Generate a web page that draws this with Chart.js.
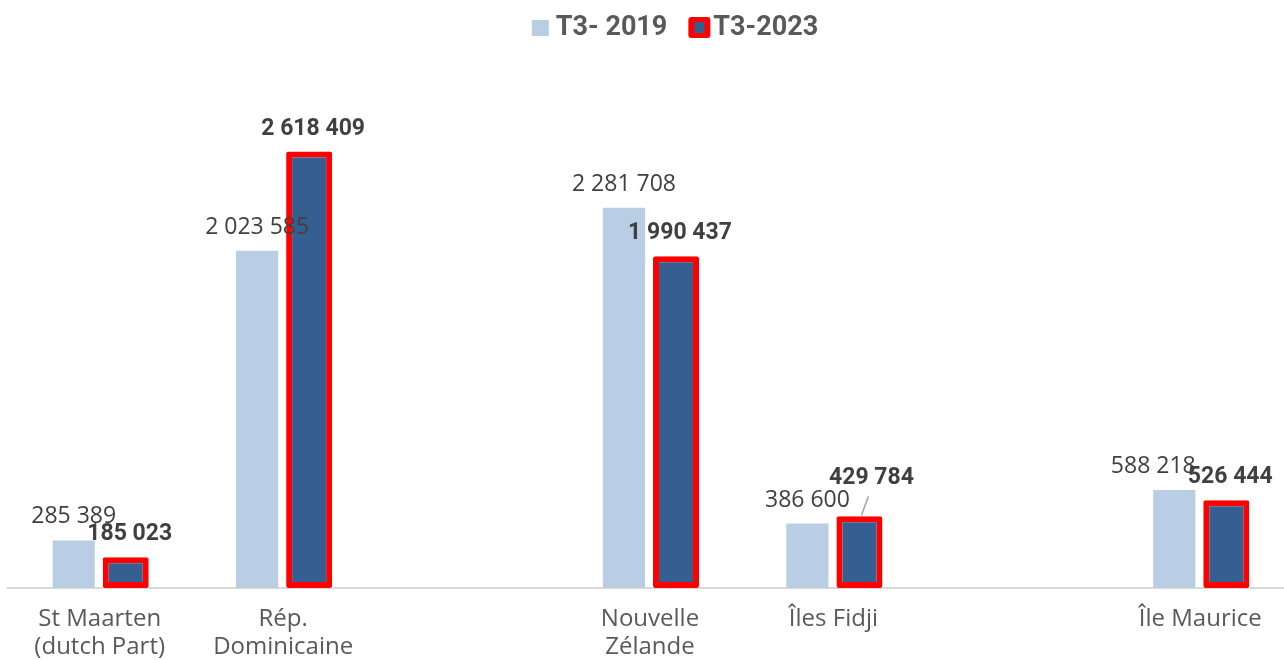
<!DOCTYPE html>
<html lang="fr">
<head>
<meta charset="utf-8">
<title>T3- 2019 / T3-2023</title>
<script src="https://cdn.jsdelivr.net/npm/chart.js@4.4.1/dist/chart.umd.min.js"></script>
<style>
  html, body { margin: 0; padding: 0; background: #fff; overflow: hidden; }
  #wrap { width: 1284px; height: 660px; overflow: hidden; }
</style>
</head>
<body>
<div id="wrap"><canvas id="chart" width="1300" height="660"></canvas></div>
<script>
  // Données
  const categories = [['St Maarten', '(dutch Part)'], ['Rép.', 'Dominicaine'], '', ['Nouvelle', 'Zélande'], 'Îles Fidji', '', 'Île Maurice'];
  const seriesNames = ['T3- 2019', 'T3-2023'];
  const values2019 = [285389, 2023585, null, 2281708, 386600, null, 588218];
  const values2023 = [185023, 2618409, null, 1990437, 429784, null, 526444];
  const yMax = 3000000;

  // petits décalages des étiquettes (comme dans l'original)
  const labelDx = [[0, 0, 0, 0, 0, 0, -21], [4, 4, 0, 4, 12, 0, 4]];
  const labelDy = [[0, 0, 0, 0, 0, 0, 0], [0, 0, 0, 0, -15, 0, 0]];
  const leaderLine = { dataset: 1, index: 4 };

  const colLight = '#b9cde5';
  const colDark = '#365f91';
  const colRed = '#ff0000';

  function formatNombre(v) {
    return String(v).replace(/\B(?=(\d{3})+(?!\d))/g, ' ');
  }

  // Étiquettes de valeurs
  const valueLabels = {
    id: 'valueLabels',
    afterDatasetsDraw(chart) {
      const ctx = chart.ctx;
      ctx.save();
      chart.data.datasets.forEach((ds, di) => {
        const meta = chart.getDatasetMeta(di);
        ctx.font = di === 0 ? '400 23px "Open Sans"' : '700 23px Roboto';
        ctx.fillStyle = '#404040';
        ctx.textAlign = 'center';
        ctx.textBaseline = 'alphabetic';
        meta.data.forEach((bar, i) => {
          const v = ds.data[i];
          if (v == null) return;
          const x = bar.x + labelDx[di][i];
          const y = bar.y - 17 + labelDy[di][i];
          if (di === leaderLine.dataset && i === leaderLine.index) {
            ctx.strokeStyle = '#a6a6a6';
            ctx.lineWidth = 1.5;
            ctx.beginPath();
            ctx.moveTo(bar.x + 2, bar.y - 1);
            ctx.lineTo(bar.x + 9, bar.y - 20);
            ctx.stroke();
          }
          ctx.fillText(formatNombre(v), x, y);
        });
      });
      ctx.restore();
    }
  };

  // Légende dessinée à la main (centrée comme l'original)
  const customLegend = {
    id: 'customLegend',
    afterDraw(chart) {
      const ctx = chart.ctx;
      const cx = 675, baseY = 35;
      ctx.save();
      ctx.font = '700 27px Roboto';
      ctx.fillStyle = '#595959';
      ctx.textBaseline = 'alphabetic';
      ctx.textAlign = 'left';
      const w1 = ctx.measureText(seriesNames[0]).width;
      const w2 = ctx.measureText(seriesNames[1]).width;
      let x = cx - (17 + 7 + w1 + 21 + 22 + 3 + w2) / 2;
      ctx.fillStyle = colLight;
      ctx.fillRect(x, 20, 17, 16);
      x += 24;
      ctx.fillStyle = '#595959';
      ctx.fillText(seriesNames[0], x, baseY);
      x += w1 + 21;
      ctx.fillStyle = colRed;
      ctx.beginPath();
      ctx.roundRect(x, 17, 22, 21, 3);
      ctx.fill();
      ctx.fillStyle = colDark;
      ctx.fillRect(x + 6, 22, 10, 11);
      x += 25;
      ctx.fillStyle = '#595959';
      ctx.fillText(seriesNames[1], x, baseY);
      ctx.restore();
    }
  };

  new Chart(document.getElementById('chart'), {
    type: 'bar',
    data: {
      labels: categories,
      datasets: [
        { label: seriesNames[0], data: values2019, backgroundColor: colLight, borderWidth: 0,
          barPercentage: 0.81, categoryPercentage: 0.567 },
        { label: seriesNames[1], data: values2023, backgroundColor: colDark, borderColor: colRed, borderWidth: 6,
          borderSkipped: false, borderRadius: 2, barPercentage: 0.885, categoryPercentage: 0.567 }
      ]
    },
    options: {
      responsive: false,
      animation: false,
      layout: { padding: { left: 8, right: 8, top: 88, bottom: 0 } },
      plugins: { legend: { display: false }, tooltip: { enabled: false } },
      scales: {
        x: {
          afterFit(scale) { scale.height = 72; },
          grid: { display: false, drawTicks: false },
          border: { display: true, color: '#d9d9d9', width: 2 },
          ticks: { color: '#595959', padding: 17, maxRotation: 0, autoSkip: false,
            font: { family: '"Open Sans"', size: 24, lineHeight: '28px' } }
        },
        y: { display: false, min: 0, max: yMax }
      }
    },
    plugins: [valueLabels, customLegend]
  });
</script>
</body>
</html>
